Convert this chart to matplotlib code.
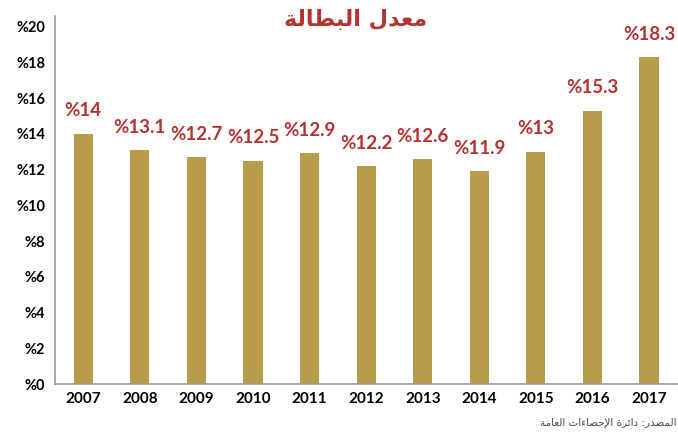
import matplotlib
matplotlib.use('Agg')
import matplotlib.pyplot as plt

# ─── Data ────────────────────────────────────────────────────────────────────
YEARS = ['2007', '2008', '2009', '2010', '2011', '2012',
         '2013', '2014', '2015', '2016', '2017']
RATES = [14, 13.1, 12.7, 12.5, 12.9, 12.2, 12.6, 11.9, 13, 15.3, 18.3]
Y_TICKS = [0, 2, 4, 6, 8, 10, 12, 14, 16, 18, 20]

# Arabic strings pre-shaped (presentation forms, visual order)
TITLE = '\uFE94\uFEDF\uFE8E\uFEC4\uFE92\uFEDF\uFE8D \uFEDD\uFEAA\uFECC\uFEE3'   # معدل البطالة
SOURCE = ('\uFE94\uFEE3\uFE8E\uFECC\uFEDF\uFE8D '            # العامة
          '\uFE95\uFE8D\uFE80\uFE8E\uFEBC\uFEA3\uFEF9\uFE8D '  # الإحصاءات
          '\uFE93\uFEAE\uFE8B\uFE8D\uFEA9 '                    # دائرة
          ':\uFEAD\uFEAA\uFEBC\uFEE4\uFEDF\uFE8D')              # المصدر:

BAR_COLOR = '#B89B4B'
RED = '#B5322F'

fig = plt.figure(figsize=(6.78, 4.38), dpi=100)
ax = fig.add_axes([0.081, 0.123, 0.918, 0.841])

x = range(len(YEARS))
ax.bar(x, RATES, width=0.34, color=BAR_COLOR)

for i, v in zip(x, RATES):
    ax.text(i, v + 0.8, f'%{v:g}', ha='center', va='bottom',
            fontsize=13.5, fontweight='bold', color=RED, family='Lato')

ax.set_xlim(-0.5, 10.5)
ax.set_ylim(0, 20.6)
ax.set_xticks(list(x))
ax.set_xticklabels(YEARS, fontsize=11, fontweight='bold', family='Lato')
ax.set_yticks(Y_TICKS)
ax.set_yticklabels([f'%{t}' for t in Y_TICKS], fontsize=10.5,
                   fontweight='bold', family='Lato')
ax.tick_params(axis='both', length=0)
ax.tick_params(axis='x', pad=6)
ax.tick_params(axis='y', pad=7)

for sp in ['top', 'right']:
    ax.spines[sp].set_visible(False)
for sp in ['left', 'bottom']:
    ax.spines[sp].set_color('#999999')
    ax.spines[sp].set_linewidth(1.2)

fig.text(0.525, 0.955, TITLE, ha='center', va='center', fontsize=16,
         fontweight='bold', color=RED, family='DejaVu Sans')
fig.text(0.998, 0.036, SOURCE, ha='right', va='center', fontsize=7.5,
         color='#444444', family='DejaVu Sans')

fig.savefig('out.png', dpi=100)
